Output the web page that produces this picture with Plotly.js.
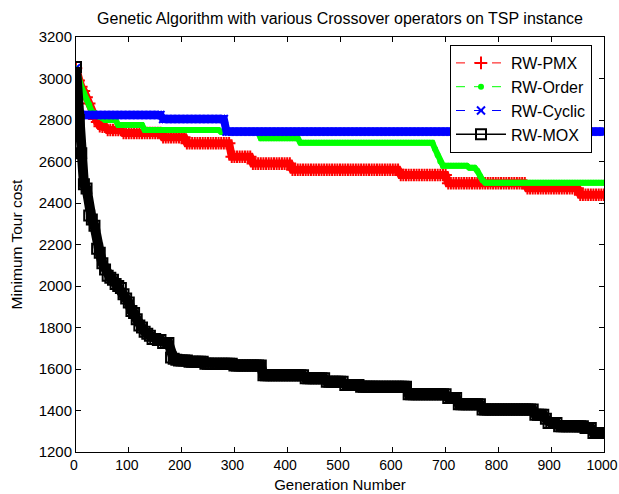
<!DOCTYPE html>
<html>
<head>
<meta charset="utf-8">
<script src="https://cdn.plot.ly/plotly-3.0.1.min.js"></script>
<style>
  html, body { margin: 0; padding: 0; background: #fff; }
  #chart { width: 619px; height: 494px; }
</style>
</head>
<body>
<div id="chart"></div>
<script>
// Generation numbers (sampled every 5 generations)
const generations = [
  0,5,10,15,20,25,30,35,40,45,
  50,55,60,65,70,75,80,85,90,95,
  100,105,110,115,120,125,130,135,140,145,
  150,155,160,165,170,175,180,185,190,195,
  200,205,210,215,220,225,230,235,240,245,
  250,255,260,265,270,275,280,285,290,295,
  300,305,310,315,320,325,330,335,340,345,
  350,355,360,365,370,375,380,385,390,395,
  400,405,410,415,420,425,430,435,440,445,
  450,455,460,465,470,475,480,485,490,495,
  500,505,510,515,520,525,530,535,540,545,
  550,555,560,565,570,575,580,585,590,595,
  600,605,610,615,620,625,630,635,640,645,
  650,655,660,665,670,675,680,685,690,695,
  700,705,710,715,720,725,730,735,740,745,
  750,755,760,765,770,775,780,785,790,795,
  800,805,810,815,820,825,830,835,840,845,
  850,855,860,865,870,875,880,885,890,895,
  900,905,910,915,920,925,930,935,940,945,
  950,955,960,965,970,975,980,985,990,995,
  1000
];

// RW-PMX minimum tour cost
const costPMX = [
  3050,2990,2960,2940,2910,2880,2830,2805,2790,2770,
  2768,2768,2752,2752,2752,2752,2752,2752,2737,2737,
  2737,2737,2737,2737,2737,2737,2737,2737,2737,2737,
  2737,2737,2737,2717,2717,2717,2717,2717,2717,2717,
  2717,2717,2688,2688,2688,2688,2688,2688,2688,2688,
  2688,2688,2688,2688,2688,2688,2688,2688,2688,2623,
  2623,2623,2623,2623,2623,2623,2623,2590,2590,2590,
  2590,2590,2590,2590,2590,2590,2590,2590,2590,2590,
  2590,2590,2560,2560,2560,2560,2560,2560,2560,2560,
  2560,2560,2560,2560,2560,2560,2560,2560,2560,2560,
  2560,2560,2560,2560,2560,2560,2560,2560,2560,2560,
  2560,2560,2560,2560,2560,2560,2560,2560,2560,2560,
  2560,2560,2560,2535,2535,2535,2535,2535,2535,2535,
  2535,2535,2535,2535,2535,2535,2535,2535,2535,2535,
  2535,2495,2495,2495,2495,2495,2495,2495,2495,2495,
  2495,2495,2495,2495,2495,2495,2495,2495,2495,2495,
  2495,2495,2495,2495,2495,2495,2495,2495,2495,2495,
  2495,2471,2471,2471,2471,2471,2471,2471,2471,2471,
  2471,2471,2471,2471,2471,2471,2471,2471,2471,2471,
  2471,2440,2440,2440,2440,2440,2440,2440,2440,2440,
  2440
];

// RW-Order minimum tour cost
const costOrder = [
  3050,3000,2960,2930,2900,2875,2840,2834,2825,2815,
  2810,2800,2800,2800,2800,2800,2776,2776,2776,2776,
  2776,2776,2776,2776,2776,2776,2752,2752,2752,2752,
  2752,2752,2752,2752,2752,2752,2752,2752,2752,2752,
  2752,2752,2752,2752,2752,2752,2752,2752,2752,2752,
  2752,2752,2752,2752,2752,2742,2742,2742,2742,2742,
  2742,2742,2742,2742,2742,2742,2742,2742,2742,2742,
  2712,2712,2712,2712,2712,2712,2712,2712,2712,2712,
  2712,2712,2712,2712,2712,2690,2690,2690,2690,2690,
  2690,2690,2690,2690,2690,2690,2690,2690,2690,2690,
  2690,2690,2690,2690,2690,2690,2690,2690,2690,2690,
  2690,2690,2690,2690,2690,2690,2690,2690,2690,2690,
  2690,2690,2690,2690,2690,2690,2690,2690,2690,2690,
  2690,2690,2690,2690,2690,2690,2660,2630,2600,2580,
  2580,2580,2580,2580,2580,2580,2580,2580,2580,2570,
  2570,2570,2555,2530,2510,2498,2498,2498,2498,2498,
  2498,2498,2498,2498,2498,2498,2498,2498,2498,2498,
  2498,2498,2498,2498,2498,2498,2498,2498,2498,2498,
  2498,2498,2498,2498,2498,2498,2498,2498,2498,2498,
  2498,2498,2498,2498,2498,2498,2498,2498,2498,2498,
  2498
];

// RW-Cyclic minimum tour cost
const costCyclic = [
  3050,2850,2824,2824,2824,2824,2824,2824,2824,2824,
  2824,2824,2824,2824,2824,2824,2824,2824,2824,2824,
  2824,2824,2824,2824,2824,2824,2824,2824,2824,2824,
  2824,2824,2824,2805,2805,2805,2805,2805,2805,2805,
  2805,2805,2805,2805,2805,2805,2805,2805,2805,2805,
  2805,2805,2805,2805,2805,2805,2805,2744,2744,2744,
  2744,2744,2744,2744,2744,2744,2744,2744,2744,2744,
  2744,2744,2744,2744,2744,2744,2744,2744,2744,2744,
  2744,2744,2744,2744,2744,2744,2744,2744,2744,2744,
  2744,2744,2744,2744,2744,2744,2744,2744,2744,2744,
  2744,2744,2744,2744,2744,2744,2744,2744,2744,2744,
  2744,2744,2744,2744,2744,2744,2744,2744,2744,2744,
  2744,2744,2744,2744,2744,2744,2744,2744,2744,2744,
  2744,2744,2744,2744,2744,2744,2744,2744,2744,2744,
  2744,2744,2744,2744,2744,2744,2744,2744,2744,2744,
  2744,2744,2744,2744,2744,2744,2744,2744,2744,2744,
  2744,2744,2744,2744,2744,2744,2744,2744,2744,2744,
  2744,2744,2744,2744,2744,2744,2744,2744,2744,2744,
  2744,2744,2744,2744,2744,2744,2744,2744,2744,2744,
  2744,2744,2744,2744,2744,2744,2744,2744,2744,2744,
  2744
];

// RW-MOX minimum tour cost
const costMOX = [
  3055,2800,2640,2490,2470,2340,2320,2290,2180,2160,
  2110,2080,2050,2040,2030,2010,2000,1990,1960,1940,
  1920,1880,1870,1840,1810,1800,1780,1770,1760,1745,
  1745,1740,1740,1725,1725,1725,1655,1650,1645,1641,
  1641,1641,1641,1635,1635,1635,1635,1635,1635,1625,
  1625,1625,1625,1625,1625,1625,1625,1625,1625,1625,
  1617,1617,1617,1617,1617,1617,1617,1617,1617,1617,
  1617,1570,1570,1570,1570,1570,1570,1570,1570,1570,
  1570,1570,1570,1570,1570,1570,1570,1555,1555,1555,
  1555,1555,1555,1555,1555,1538,1538,1538,1538,1538,
  1538,1538,1523,1523,1523,1523,1523,1523,1515,1515,
  1515,1515,1515,1515,1515,1515,1515,1515,1515,1515,
  1515,1515,1515,1515,1515,1515,1478,1478,1478,1478,
  1478,1478,1478,1478,1478,1478,1478,1478,1478,1478,
  1478,1460,1460,1460,1460,1430,1430,1430,1430,1430,
  1430,1430,1430,1430,1405,1405,1405,1405,1405,1405,
  1405,1405,1405,1405,1405,1405,1405,1405,1405,1405,
  1405,1405,1405,1405,1380,1380,1380,1380,1360,1340,
  1340,1340,1340,1324,1324,1324,1324,1324,1324,1324,
  1324,1324,1324,1316,1316,1316,1292,1292,1292,1292,
  1292
];

const seriesNames = ['RW-PMX', 'RW-Order', 'RW-Cyclic', 'RW-MOX'];
const seriesColors = ['#ff0000', '#00ff00', '#0000ff', '#000000'];
const xTickVals = [0,100,200,300,400,500,600,700,800,900,1000];
const yTickVals = [1200,1400,1600,1800,2000,2200,2400,2600,2800,3000,3200];

const FONT = 'Liberation Sans, Arial, sans-serif';

// Each run is drawn as a dense band (one mark per generation in the original)
// plus its markers; the band trace is hidden from the legend.
function band(yvals, color, width) {
  return {
    x: generations, y: yvals, type: 'scatter', mode: 'lines', showlegend: false,
    hoverinfo: 'skip', line: { color: color, width: width }
  };
}

const traces = [
  band(costPMX, seriesColors[0], 8),
  {
    x: generations, y: costPMX, name: seriesNames[0], type: 'scatter', mode: 'lines+markers',
    line: { color: seriesColors[0], width: 1, dash: 'dash' },
    marker: { symbol: 'cross-thin-open', size: 9, color: seriesColors[0], line: { color: seriesColors[0], width: 2 } }
  },
  band(costOrder, seriesColors[1], 6),
  {
    x: generations, y: costOrder, name: seriesNames[1], type: 'scatter', mode: 'lines+markers',
    line: { color: seriesColors[1], width: 1, dash: 'dash' },
    marker: { symbol: 'circle', size: 6, color: seriesColors[1], line: { width: 0 } }
  },
  band(costCyclic, seriesColors[2], 8),
  {
    x: generations, y: costCyclic, name: seriesNames[2], type: 'scatter', mode: 'lines+markers',
    line: { color: seriesColors[2], width: 1, dash: 'dash' },
    marker: { symbol: 'x-thin-open', size: 8, color: seriesColors[2], line: { color: seriesColors[2], width: 2 } }
  },
  band(costMOX, seriesColors[3], 10),
  {
    x: generations, y: costMOX, name: seriesNames[3], type: 'scatter', mode: 'lines+markers',
    line: { color: seriesColors[3], width: 1.5 },
    marker: { symbol: 'square-open', size: 10, color: seriesColors[3], line: { color: seriesColors[3], width: 2 } }
  }
];

const layout = {
  width: 619,
  height: 494,
  margin: { l: 76, r: 15, t: 37, b: 42, pad: 0 },
  paper_bgcolor: '#ffffff',
  plot_bgcolor: '#ffffff',
  font: { family: FONT, size: 15, color: '#000000' },
  title: {
    text: 'Genetic Algorithm with various Crossover operators on TSP instance',
    font: { family: FONT, size: 16, color: '#000000' },
    x: 0.5, xref: 'paper', xanchor: 'center',
    y: 1 - 18 / 494, yref: 'container', yanchor: 'middle'
  },
  showlegend: true,
  legend: {
    x: (450 - 76) / 528, y: 1 - (45 - 37) / 415, xanchor: 'left', yanchor: 'top',
    bgcolor: '#ffffff', bordercolor: '#000000', borderwidth: 1,
    font: { family: FONT, size: 16, color: '#000000' },
    itemwidth: 50, tracegroupgap: 0
  },
  xaxis: {
    range: [0, 1000],
    tickmode: 'array', tickvals: xTickVals, ticktext: xTickVals.map(String),
    ticks: 'inside', ticklen: 5, tickcolor: '#000000', tickwidth: 1,
    showline: true, linecolor: '#000000', linewidth: 1, mirror: 'ticks',
    showgrid: false, zeroline: false, ticklabeloverflow: 'allow',
    ticklabelshift: -2,
    tickfont: { family: FONT, size: 14, color: '#000000' },
    title: { text: 'Generation Number', font: { family: FONT, size: 15, color: '#000000' }, standoff: 7 }
  },
  yaxis: {
    range: [1200, 3200],
    tickmode: 'array', tickvals: yTickVals, ticktext: yTickVals.map(String),
    ticks: 'inside', ticklen: 5, tickcolor: '#000000', tickwidth: 1,
    showline: true, linecolor: '#000000', linewidth: 1, mirror: 'ticks',
    showgrid: false, zeroline: false, ticklabeloverflow: 'allow',
    tickfont: { family: FONT, size: 15, color: '#000000' },
    title: { text: 'Minimum Tour cost', font: { family: FONT, size: 15.5, color: '#000000' }, standoff: 12 }
  }
};

Plotly.newPlot('chart', traces, layout, { staticPlot: true, displayModeBar: false });
</script>
</body>
</html>
